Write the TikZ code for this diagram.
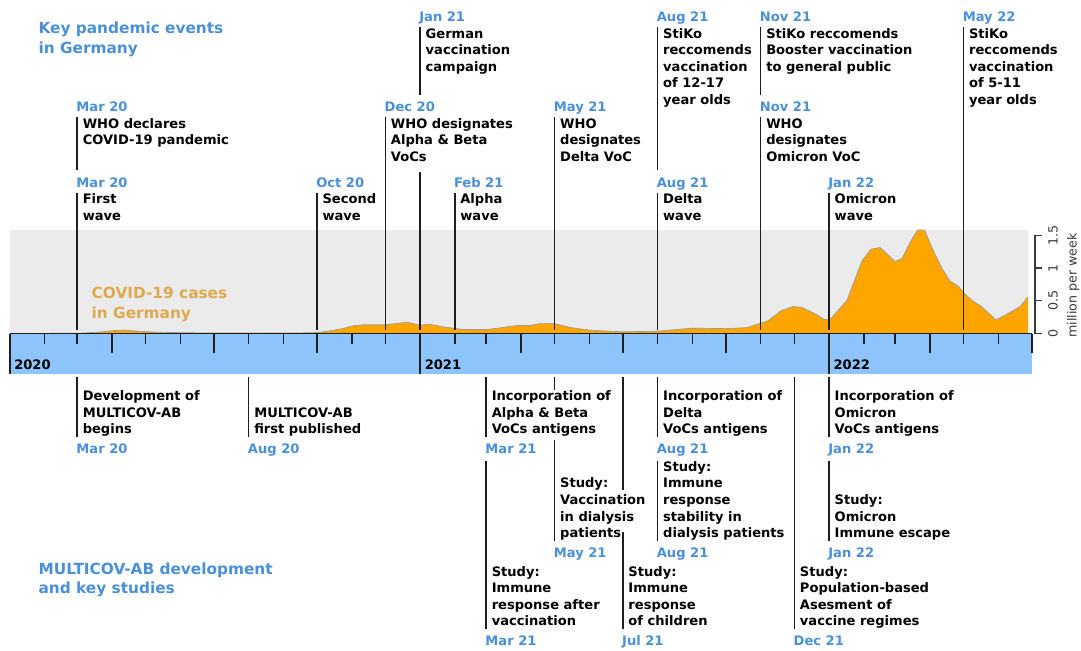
\documentclass[tikz,border=0pt]{standalone}
\usepackage{fontspec}
\setmainfont{DejaVu Sans}

\definecolor{hdrblue}{HTML}{4A90D9}
\definecolor{casetxt}{HTML}{DFA94E}
\definecolor{casefill}{HTML}{FFA500}
\definecolor{caseedge}{HTML}{9A9A9A}
\definecolor{plotbg}{HTML}{EBEBEB}
\definecolor{barblue}{HTML}{8DC4FC}
\definecolor{inkline}{HTML}{1E1E1E}
\definecolor{axisgray}{HTML}{3A3A3A}

\newcommand\bodyfont{\fontsize{9.8}{12.4}\selectfont\bfseries}
\newcommand\headfont{\fontsize{11.5}{14.75}\selectfont\bfseries}
\newcommand\axisfont{\fontsize{9.5}{11}\selectfont}
\newcommand\topstrut{\rule{0pt}{7.95pt}}
\newcommand\botstrut{\rule[-2.25pt]{0pt}{2.25pt}}
\newcommand\headstrut{\rule{0pt}{9pt}}

\tikzset{
  datelbl/.style={anchor=base west, inner sep=0pt, text=hdrblue, font=\bodyfont},
  toptxt/.style={anchor=north west, inner sep=0pt, align=left, font=\bodyfont},
  bottxt/.style={anchor=south west, inner sep=0pt, align=left, font=\bodyfont},
  heading/.style={anchor=north west, inner sep=0pt, align=left, font=\headfont, text=hdrblue},
  yearlbl/.style={anchor=base west, inner sep=0pt, font=\bodyfont},
  evline/.style={draw=inkline, line width=1.1pt},
  tickline/.style={draw=inkline, line width=1.1pt},
  ytick/.style={draw=axisgray, line width=0.8pt},
  ylbl/.style={inner sep=0pt, rotate=90, font=\axisfont, text=axisgray},
}

% event above the time bar: date, line going down, text to the right of the line top
\newcommand\evtop[6]{%
  \node[datelbl] (#1d) at ({#2-1},{#3+4.7}) {#4};
  \coordinate (#1a) at (#2,{#3+10.5});
  \coordinate (#1b) at (#2,#6);
  \draw[evline] (#1a) -- (#1b);
  \node[toptxt] (#1t) at ({#2+5.3},{#3+10.5}) {\topstrut#5};
}
% event below the time bar: line from its start, text ending at the line bottom, date below
\newcommand\evbot[6]{%
  \node[datelbl] (#1d) at ({#2-1},{#3+4.7}) {#4};
  \coordinate (#1a) at (#2,#6);
  \coordinate (#1b) at (#2,{#3-11.5});
  \draw[evline] (#1a) -- (#1b);
  \node[bottxt] (#1t) at ({#2+5.3},{#3-11.5}) {#5\botstrut};
}

\begin{document}
\begin{tikzpicture}[x=0.75pt, y=-0.75pt]
\useasboundingbox (0,0) rectangle (1081,650);

% headings
\node[heading] (hdtop) at (38.3,21.2) {\headstrut Key pandemic events\\in Germany};
\node[heading] (hdbot) at (38.3,562) {\headstrut MULTICOV-AB development\\and key studies};

% case plot background and weekly cases
\fill[plotbg] (10,230) rectangle (1028,333.5);
\filldraw[fill=casefill, draw=caseedge, line width=0.5pt]
  (1028,333.5) -- (10,333.5) -- (80,333.2) -- (100,332.0) -- (115,330.5) -- (124,330.2)
  -- (140,331.3) -- (158,332.3) -- (200,332.9) -- (260,333.0) -- (300,332.9) -- (318,332.5)
  -- (330,330.8) -- (343,328.5) -- (353,325.8) -- (363,324.8) -- (385,324.8) -- (397,323.5)
  -- (407,322.2) -- (420,325.2) -- (430,324.2) -- (443,326.8) -- (463,329.5) -- (487,329.5)
  -- (503,327.5) -- (517,325.5) -- (530,325.5) -- (540,323.6) -- (554,323.6) -- (571,327.6)
  -- (590,330.2) -- (622,331.8) -- (657,331.2) -- (692,328.2) -- (726,328.6) -- (747,327.6)
  -- (768,320.8) -- (781,310.8) -- (793,306.5) -- (802,307.5) -- (816,314.2) -- (824.5,319.8)
  -- (831,318.5) -- (847,300.2) -- (862,260.8) -- (871,249.2) -- (880,247.5) -- (895,261.5)
  -- (902,258.5) -- (911,240.8) -- (917.6,230) -- (924.5,230) -- (933,250.2) -- (942,268.5)
  -- (950,281) -- (958,286) -- (964,293) -- (972,300.5) -- (981.5,306.5) -- (996,320)
  -- (1006.7,314.3) -- (1020,306.7) -- (1028,296.7);
\node[heading, text=casetxt] (hdcases) at (91.4,286.3) {\headstrut COVID-19 cases\\in Germany};

% y axis of the case plot
\coordinate (yax0) at (1035,333.5);
\coordinate (yax1) at (1035,235.25);
\draw[ytick] (yax0) -- (yax1);
\foreach \v/\lbl [count=\i] in {0/0, 0.5/0.5, 1/1, 1.5/1.5}{
  \coordinate (yt\i) at (1035,{333.5-65.5*\v});
  \draw[ytick] (yt\i) -- ++(6.7,0);
  \node[ylbl] (yl\i) at (1053,{333.5-65.5*\v}) {\lbl};
}
\node[ylbl] (yunit) at (1073,285.5) {million per week};

% events above the time bar
\evtop{jan21}{420.1}{16.7}{Jan 21}{German\\vaccination\\campaign}{95}
\evtop{aug21a}{657.6}{16.7}{Aug 21}{StiKo\\reccomends\\vaccination\\of 12-17\\year olds}{170}
\evtop{nov21a}{760.7}{16.7}{Nov 21}{StiKo reccomends\\Booster vaccination\\to general public}{95}
\evtop{may22}{963.5}{16.7}{May 22}{StiKo\\reccomends\\vaccination\\of 5-11\\year olds}{330}
\evtop{mar20a}{77.2}{106.7}{Mar 20}{WHO declares\\COVID-19 pandemic}{170}
\evtop{dec20}{385.4}{106.7}{Dec 20}{WHO designates\\Alpha \& Beta\\VoCs}{330}
\evtop{may21a}{554.6}{106.7}{May 21}{WHO\\designates\\Delta VoC}{330}
\evtop{nov21b}{760.7}{106.7}{Nov 21}{WHO\\designates\\Omicron VoC}{330}
\evtop{mar20b}{77.2}{182.3}{Mar 20}{First\\wave}{330}
\evtop{oct20}{317.0}{182.3}{Oct 20}{Second\\wave}{330}
\evtop{feb21}{454.8}{182.3}{Feb 21}{Alpha\\wave}{330}
\evtop{aug21b}{657.6}{182.3}{Aug 21}{Delta\\wave}{330}
\evtop{jan22a}{829.1}{182.3}{Jan 22}{Omicron\\wave}{330}
% lower part of the Jan 21 line, below the Dec 20 text
\coordinate (jan21c) at (420.1,171.7);
\coordinate (jan21e) at (420.1,330);
\draw[evline] (jan21c) -- (jan21e);

% time bar
\fill[barblue] (10,333.5) rectangle (1032,374);
\coordinate (barL) at (10,333.5);
\coordinate (barR) at (1032,333.5);
\draw[tickline, line width=1.2pt] (barL) -- (barR);
\foreach \x in {44.7,77.2,145.6,180.3,248.7,283.4,351.8,385.4,
                454.8,486.2,554.6,589.3,657.6,692.4,760.7,794.4,
                863.8,895.2,963.5,998.3}
  \draw[tickline] (\x,333.5) -- (\x,344);
\foreach \x in {112.0,213.9,317.0,521.0,622.9,726.0,929.9,1031.9}
  \draw[tickline] (\x,333.5) -- (\x,353.3);
\foreach \x in {10,420.1,829.1}
  \draw[tickline] (\x,333.5) -- (\x,374);
\node[yearlbl] (y2020) at (14,369.7) {2020};
\node[yearlbl] (y2021) at (424.5,369.7) {2021};
\node[yearlbl] (y2022) at (833.3,369.7) {2022};

% MULTICOV-AB development and studies below the time bar
\evbot{mar20c}{77.2}{448.3}{Mar 20}{Development of\\MULTICOV-AB\\begins}{376.7}
\evbot{aug20}{248.7}{448.3}{Aug 20}{MULTICOV-AB\\first published}{376.7}
\evbot{mar21a}{486.2}{448.3}{Mar 21}{Incorporation of\\Alpha \& Beta\\VoCs antigens}{376.7}
\evbot{aug21c}{657.6}{448.3}{Aug 21}{Incorporation of\\Delta\\VoCs antigens}{376.7}
\evbot{jan22b}{829.1}{448.3}{Jan 22}{Incorporation of\\Omicron\\VoCs antigens}{376.7}
\evbot{may21b}{554.6}{552.3}{May 21}{Study:\\Vaccination\\in dialysis\\patients}{440}
\evbot{aug21d}{657.6}{552.3}{Aug 21}{Study:\\Immune\\response\\stability in\\dialysis patients}{460.7}
\evbot{jan22c}{829.1}{552.3}{Jan 22}{Study:\\Omicron\\Immune escape}{460.7}
\evbot{mar21b}{486.2}{640.7}{Mar 21}{Study:\\Immune\\response after\\vaccination}{460.7}
\evbot{jul21}{622.9}{640.7}{Jul 21}{Study:\\Immune\\response\\of children}{531.7}
\evbot{dec21}{794.4}{640.7}{Dec 21}{Study:\\Population-based\\Asesment of\\vaccine regimes}{376.7}
% upper parts of the May 21 and Jul 21 study lines, above the texts that cross them
\coordinate (may21s) at (554.6,376.7);
\coordinate (may21e) at (554.6,390);
\draw[evline] (may21s) -- (may21e);
\coordinate (jul21s) at (622.9,376.7);
\coordinate (jul21e) at (622.9,490);
\draw[evline] (jul21s) -- (jul21e);
\end{tikzpicture}
\end{document}
